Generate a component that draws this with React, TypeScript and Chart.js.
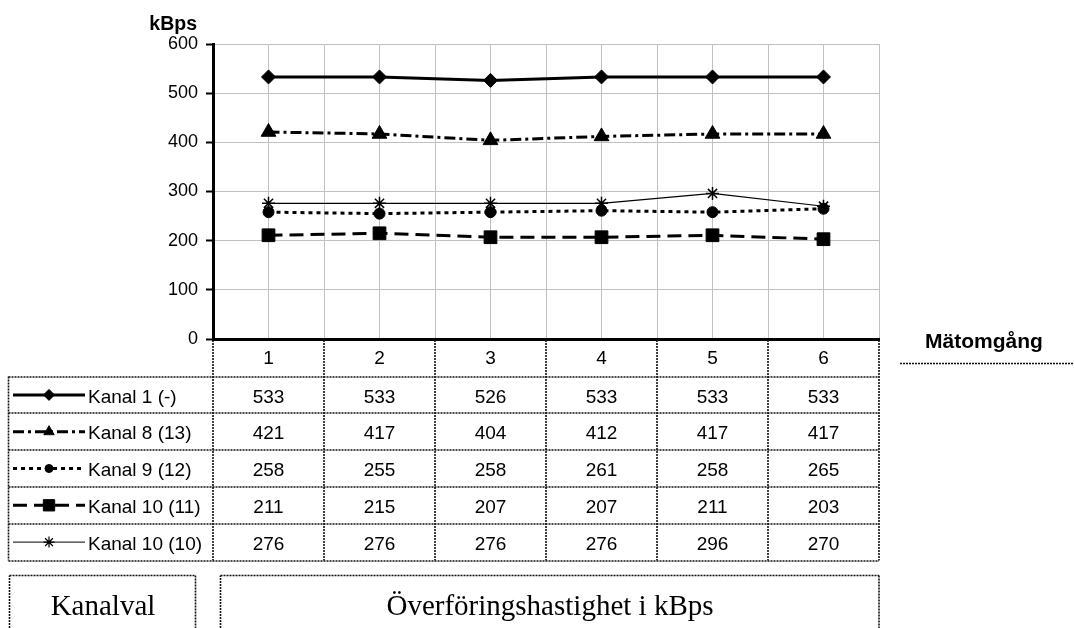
import React, { useEffect, useRef } from 'react';
import { Chart, registerables } from 'chart.js';
import { drawPoint } from 'chart.js/helpers';

Chart.register(...registerables);

const categories = ['1', '2', '3', '4', '5', '6'];
const seriesNames = ['Kanal 1 (-)', 'Kanal 8 (13)', 'Kanal 9 (12)', 'Kanal 10 (11)', 'Kanal 10 (10)'];
const kanal1 = [533, 533, 526, 533, 533, 533];
const kanal8 = [421, 417, 404, 412, 417, 417];
const kanal9 = [258, 255, 258, 261, 258, 265];
const kanal10_11 = [211, 215, 207, 207, 211, 203];
const kanal10_10 = [276, 276, 276, 276, 296, 270];
const seriesValues = [kanal1, kanal8, kanal9, kanal10_11, kanal10_10];
const yMin = 0;
const yMax = 600;
const yStep = 100;
const yTitle = 'kBps';
const xTitle = 'Mätomgång';
const leftBoxLabel = 'Kanalval';
const rightBoxLabel = 'Överföringshastighet i kBps';

const SANS = '"Liberation Sans", Arial, sans-serif';
const SERIF = '"Liberation Serif", "Times New Roman", serif';

const seriesStyles = [
  { dash: [] as number[], width: 3, point: 'rectRot', radius: 7, legendRadius: 5.5 },
  { dash: [11, 4, 3, 4], width: 3, point: 'triangle', radius: 8.5, legendRadius: 6 },
  { dash: [4, 4], width: 3, point: 'circle', radius: 5.5, legendRadius: 4 },
  { dash: [14, 7], width: 3, point: 'rect', radius: 9, legendRadius: 8 },
  { dash: [] as number[], width: 1.2, point: 'star', radius: 6.5, legendRadius: 5.5 },
];

const dottedLine = (ctx: CanvasRenderingContext2D, x1: number, y1: number, x2: number, y2: number) => {
  ctx.beginPath();
  ctx.moveTo(x1, y1);
  ctx.lineTo(x2, y2);
  ctx.stroke();
};

const tablePlugin = {
  id: 'dataTable',
  afterDraw(chart: any) {
    const ctx: CanvasRenderingContext2D = chart.ctx;
    const xs = chart.scales.x;
    const a = chart.chartArea;
    const headerH = 37.5;
    const rowH = 36.8;
    const tableLeft = 8.5;
    const top = a.bottom;
    const rowsTop = top + headerH;
    const tableBottom = rowsTop + rowH * seriesNames.length;
    const bounds = categories.map((_, i) => Math.round(xs.getPixelForValue(i + 0.5)));
    bounds.push(Math.round(xs.getPixelForValue(categories.length + 0.5)));
    const right = bounds[bounds.length - 1];

    ctx.save();
    ctx.strokeStyle = '#111';
    ctx.lineWidth = 1.6;
    ctx.setLineDash([2, 1]);
    bounds.forEach((bx) => dottedLine(ctx, bx, top + 1, bx, tableBottom));
    dottedLine(ctx, tableLeft, rowsTop, tableLeft, tableBottom);
    for (let k = 0; k <= seriesNames.length; k++) {
      const y = Math.round(rowsTop + k * rowH);
      dottedLine(ctx, tableLeft, y, right, y);
    }
    const boxTop = 575.5;
    dottedLine(ctx, 9.5, 640, 9.5, boxTop);
    dottedLine(ctx, 9.5, boxTop, 195.5, boxTop);
    dottedLine(ctx, 195.5, boxTop, 195.5, 640);
    dottedLine(ctx, 220.5, 640, 220.5, boxTop);
    dottedLine(ctx, 220.5, boxTop, right, boxTop);
    dottedLine(ctx, right, boxTop, right, 640);
    dottedLine(ctx, 900, 363.5, 1074, 363.5);
    ctx.setLineDash([]);

    ctx.fillStyle = '#000';
    ctx.textBaseline = 'middle';
    ctx.font = `19px ${SANS}`;
    ctx.textAlign = 'center';
    categories.forEach((c, i) => {
      const cx = xs.getPixelForValue(i + 1);
      ctx.fillText(c, cx, top + headerH / 2 + 1.5);
    });
    seriesValues.forEach((vals, r) => {
      const cy = rowsTop + rowH * r + rowH / 2 + 2.5;
      vals.forEach((v, i) => {
        ctx.fillText(String(v), xs.getPixelForValue(i + 1), cy);
      });
    });
    seriesNames.forEach((name, r) => {
      const st = seriesStyles[r];
      const cy = rowsTop + rowH * r + rowH / 2;
      ctx.save();
      ctx.strokeStyle = '#000';
      ctx.fillStyle = '#000';
      ctx.lineWidth = st.point === 'star' ? 1 : st.width;
      ctx.setLineDash(st.dash);
      ctx.beginPath();
      ctx.moveTo(13, cy);
      ctx.lineTo(85, cy);
      ctx.stroke();
      ctx.setLineDash([]);
      ctx.lineWidth = st.point === 'star' ? 1.2 : 1;
      drawPoint(ctx, { pointStyle: st.point, radius: st.legendRadius, rotation: 0, borderWidth: ctx.lineWidth } as any, 49, cy);
      ctx.restore();
      ctx.fillStyle = '#000';
      ctx.textAlign = 'left';
      ctx.textBaseline = 'middle';
      ctx.font = `19px ${SANS}`;
      ctx.fillText(name, 88, cy + 2.5);
    });

    ctx.textBaseline = 'alphabetic';
    ctx.font = `bold 19.5px ${SANS}`;
    ctx.textAlign = 'right';
    ctx.fillText(yTitle, 197, 30);
    ctx.textAlign = 'center';
    ctx.font = `bold 21px ${SANS}`;
    ctx.fillText(xTitle, 984, 348);

    ctx.font = `29px ${SERIF}`;
    ctx.fillText(leftBoxLabel, 103, 615);
    ctx.fillText(rightBoxLabel, 550, 615);
    ctx.restore();
  },
};

export default function App() {
  const ref = useRef<HTMLCanvasElement>(null);
  useEffect(() => {
    if (!ref.current) return;
    const chart = new Chart(ref.current, {
      type: 'line',
      data: {
        datasets: seriesValues.map((vals, i) => {
          const st = seriesStyles[i];
          return {
            label: seriesNames[i],
            data: vals.map((v, j) => ({ x: j + 1, y: v })),
            borderColor: '#000',
            backgroundColor: '#000',
            borderWidth: st.width,
            borderDash: st.dash,
            pointStyle: st.point as any,
            pointRadius: st.radius,
            pointBorderWidth: st.point === 'star' ? 1.5 : 1,
            pointBackgroundColor: '#000',
            pointBorderColor: '#000',
            tension: 0,
            fill: false,
          };
        }),
      },
      options: {
        responsive: false,
        animation: false,
        layout: { padding: { left: 0, top: 44, right: 195, bottom: 289 } },
        plugins: { legend: { display: false }, tooltip: { enabled: false } },
        scales: {
          x: {
            type: 'linear',
            min: 0.5,
            max: categories.length + 0.5,
            ticks: { display: false, stepSize: 0.5 },
            grid: { color: '#c0c0c0', lineWidth: 1, drawTicks: false },
            border: { color: '#000', width: 3 },
            afterFit: (s: any) => {
              s.height = 0;
              s.paddingLeft = 0;
              s.paddingRight = 0;
            },
          },
          y: {
            min: yMin,
            max: yMax,
            ticks: { stepSize: yStep, color: '#000', font: { family: SANS, size: 18 }, padding: 8 },
            grid: { color: '#c0c0c0', lineWidth: 1, tickColor: '#000', tickLength: 7, tickWidth: 2 },
            border: { color: '#000', width: 3 },
            afterFit: (s: any) => {
              s.width = 213;
              s.paddingTop = 0;
              s.paddingBottom = 0;
            },
          },
        },
      },
      plugins: [tablePlugin],
    });
    return () => chart.destroy();
  }, []);
  return (
    <div style={{ position: 'absolute', left: 0, top: 0, width: 1074, height: 628, background: '#fff' }}>
      <canvas ref={ref} width={1074} height={628} style={{ width: 1074, height: 628, display: 'block' }} />
    </div>
  );
}
